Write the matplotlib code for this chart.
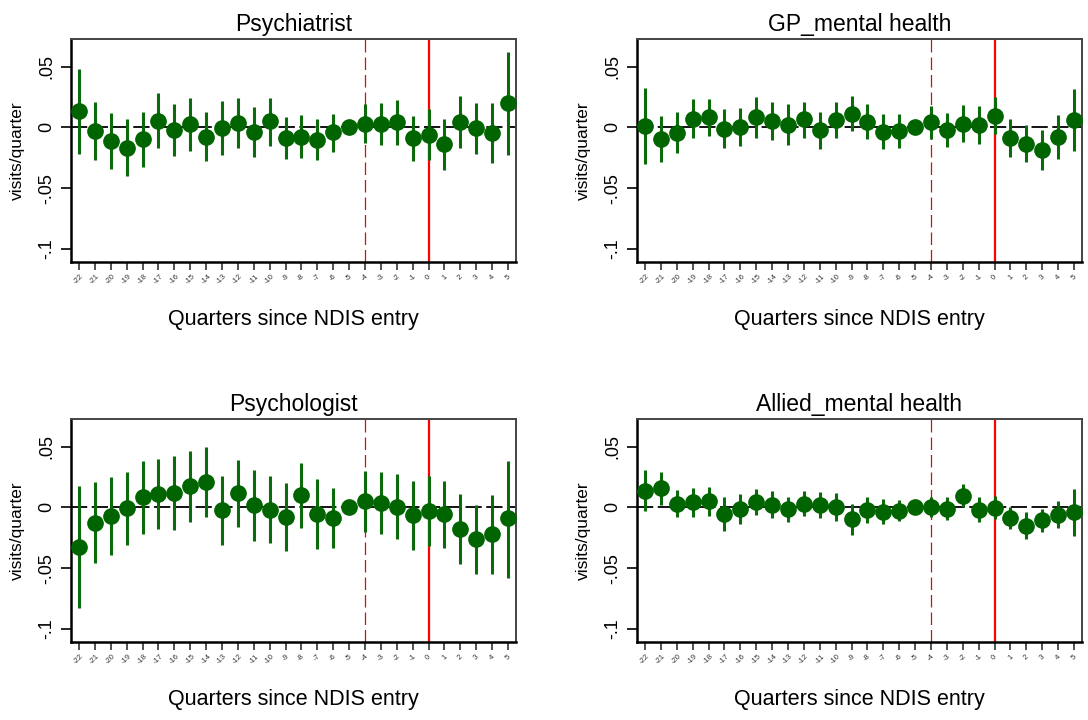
import numpy as np
import matplotlib
matplotlib.use("Agg")
import matplotlib.pyplot as plt

plt.rcParams['font.family'] = ['Liberation Sans', 'DejaVu Sans']

quarters = list(range(-22, 6))

# point estimates and 95% CI bounds
psychiatrist_est = [0.0134, -0.0027, -0.0109, -0.0167, -0.0098, 0.0055, -0.0022, 0.0025, -0.0077, -0.0008,
                    0.0038, -0.0041, 0.0049, -0.0087, -0.0077, -0.0101, -0.0041, 0.0, 0.0030, 0.0027,
                    0.0044, -0.0090, -0.0060, -0.0139, 0.0046, -0.0008, -0.0049, 0.0199]
psychiatrist_hi = [0.0484, 0.0205, 0.0117, 0.0066, 0.0123, 0.0279, 0.0191, 0.0243, 0.0123, 0.0213,
                   0.0240, 0.0164, 0.0240, 0.0082, 0.0098, 0.0066, 0.0112, 0.0, 0.0191, 0.0199,
                   0.0224, 0.0093, 0.0148, 0.0066, 0.0257, 0.0202, 0.0202, 0.0617]
psychiatrist_lo = [-0.0219, -0.0268, -0.0339, -0.0399, -0.0325, -0.0172, -0.0235, -0.0194, -0.0279, -0.0227,
                   -0.0167, -0.0240, -0.0150, -0.0262, -0.0249, -0.0268, -0.0202, 0.0, -0.0131, -0.0148,
                   -0.0142, -0.0279, -0.0268, -0.0347, -0.0167, -0.0221, -0.0295, -0.0227]

gp_est = [0.0011, -0.0096, -0.0049, 0.0071, 0.0082, -0.0011, 0.0005, 0.0082, 0.0055, 0.0022,
          0.0066, -0.0025, 0.0060, 0.0112, 0.0046, -0.0038, -0.0027, 0.0, 0.0041, -0.0019,
          0.0030, 0.0016, 0.0096, -0.0090, -0.0134, -0.0189, -0.0082, 0.0060]
gp_hi = [0.0325, 0.0093, 0.0123, 0.0230, 0.0230, 0.0150, 0.0161, 0.0249, 0.0208, 0.0191,
         0.0208, 0.0126, 0.0208, 0.0257, 0.0189, 0.0107, 0.0112, 0.0, 0.0175, 0.0117,
         0.0183, 0.0172, 0.0249, 0.0066, 0.0016, -0.0025, 0.0098, 0.0314]
gp_lo = [-0.0303, -0.0281, -0.0208, -0.0085, -0.0071, -0.0172, -0.0150, -0.0085, -0.0104, -0.0148,
         -0.0085, -0.0178, -0.0090, -0.0027, -0.0098, -0.0180, -0.0172, 0.0, -0.0093, -0.0161,
         -0.0120, -0.0134, -0.0057, -0.0246, -0.0287, -0.0352, -0.0262, -0.0194]

psychologist_est = [-0.0325, -0.0128, -0.0071, -0.0005, 0.0082, 0.0109, 0.0120, 0.0175, 0.0210, -0.0022,
                    0.0115, 0.0016, -0.0019, -0.0077, 0.0098, -0.0055, -0.0087, 0.0, 0.0052, 0.0033,
                    0.0005, -0.0066, -0.0027, -0.0057, -0.0175, -0.0262, -0.0221, -0.0088]
psychologist_hi = [0.0175, 0.0205, 0.0246, 0.0295, 0.0383, 0.0402, 0.0421, 0.0464, 0.0497, 0.0260,
                   0.0393, 0.0309, 0.0260, 0.0197, 0.0366, 0.0235, 0.0156, 0.0, 0.0298, 0.0290,
                   0.0276, 0.0221, 0.0262, 0.0219, 0.0109, 0.0019, 0.0098, 0.0380]
psychologist_lo = [-0.0828, -0.0456, -0.0388, -0.0309, -0.0216, -0.0180, -0.0183, -0.0117, -0.0079, -0.0309,
                   -0.0161, -0.0273, -0.0295, -0.0355, -0.0167, -0.0342, -0.0336, 0.0, -0.0199, -0.0221,
                   -0.0262, -0.0352, -0.0320, -0.0331, -0.0467, -0.0549, -0.0544, -0.0580]

allied_est = [0.0137, 0.0158, 0.0030, 0.0044, 0.0052, -0.0057, -0.0014, 0.0046, 0.0019, -0.0014,
              0.0030, 0.0019, 0.0005, -0.0096, -0.0019, -0.0038, -0.0027, 0.0, 0.0, -0.0011,
              0.0093, -0.0019, -0.0003, -0.0087, -0.0150, -0.0104, -0.0066, -0.0041]
allied_hi = [0.0306, 0.0292, 0.0142, 0.0156, 0.0164, 0.0082, 0.0107, 0.0153, 0.0137, 0.0087,
             0.0131, 0.0128, 0.0117, 0.0027, 0.0082, 0.0066, 0.0060, 0.0, 0.0082, 0.0087,
             0.0191, 0.0082, 0.0096, 0.0005, -0.0036, -0.0011, 0.0049, 0.0148]
allied_lo = [-0.0033, 0.0019, -0.0082, -0.0077, -0.0071, -0.0191, -0.0137, -0.0066, -0.0090, -0.0117,
             -0.0071, -0.0085, -0.0109, -0.0224, -0.0126, -0.0139, -0.0115, 0.0, -0.0077, -0.0107,
             0.0005, -0.0123, -0.0096, -0.0178, -0.0262, -0.0202, -0.0169, -0.0235]

titles = ["Psychiatrist", "GP_mental health", "Psychologist", "Allied_mental health"]
yticks = [-0.1, -0.05, 0, 0.05]
yticklabels = ["-.1", "-.05", "0", ".05"]

GREEN = "#006400"


def draw_panel(ax, est, lo, hi, title):
    est = np.array(est); lo = np.array(lo); hi = np.array(hi)
    ax.axhline(0, color="black", lw=1.3, ls=(0, (9, 2.5)), zorder=1)
    ax.axvline(-4, color="#d01010", lw=0.9, ls=(0, (10, 4)), zorder=1)
    ax.axvline(0, color="red", lw=1.6, zorder=1)
    ax.errorbar(quarters, est, yerr=[est - lo, hi - est], fmt="o", color=GREEN,
                ecolor="#0b6b0b", elinewidth=2.2, capsize=0, markersize=11, zorder=3)
    ax.set_xlim(-22.5, 5.5)
    ax.set_ylim(-0.1107, 0.0727)
    ax.set_xticks(quarters)
    ax.set_xticklabels([str(q) for q in quarters], rotation=45, fontsize=5.5, color="#333333")
    ax.set_yticks(yticks)
    ax.set_yticklabels(yticklabels, rotation=90, va="center", fontsize=13)
    ax.tick_params(axis="x", length=6, width=1.2, color="#333333", pad=2)
    ax.tick_params(axis="y", length=7, width=1.2, pad=4)
    for s in ["left", "bottom"]:
        ax.spines[s].set_linewidth(1.8)
        ax.spines[s].set_color("black")
    for s in ["top", "right"]:
        ax.spines[s].set_linewidth(1.4)
        ax.spines[s].set_color("#444444")
    ax.set_title(title, fontsize=16.5, pad=6)
    ax.set_xlabel("Quarters since NDIS entry", fontsize=15.5, labelpad=17)
    ax.set_ylabel("visits/quarter", fontsize=12.5, labelpad=10)


fig = plt.figure(figsize=(10.88, 7.2), dpi=100)
w = 445 / 1088
h = 223 / 720
positions = [(71 / 1088, 1 - 262 / 720), (637 / 1088, 1 - 262 / 720),
             (71 / 1088, 1 - 642 / 720), (637 / 1088, 1 - 642 / 720)]
data = [(psychiatrist_est, psychiatrist_lo, psychiatrist_hi),
        (gp_est, gp_lo, gp_hi),
        (psychologist_est, psychologist_lo, psychologist_hi),
        (allied_est, allied_lo, allied_hi)]

for (l, b), (e, lo, hi), t in zip(positions, data, titles):
    ax = fig.add_axes([l, b, w, h])
    draw_panel(ax, e, lo, hi, t)

fig.savefig("out.png", dpi=100)
